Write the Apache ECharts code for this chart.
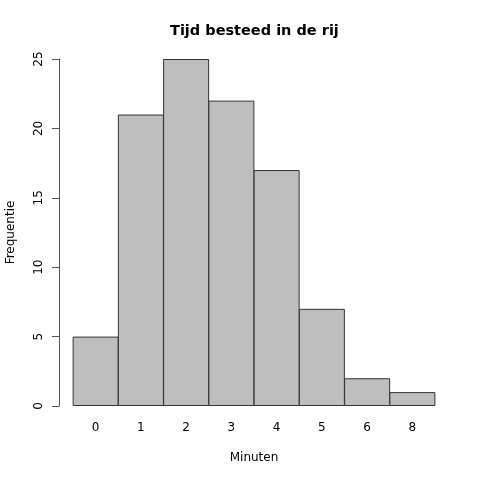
<!DOCTYPE html>
<html>
<head>
<meta charset="utf-8">
<script src="https://cdn.jsdelivr.net/npm/echarts@6/dist/echarts.min.js"></script>
<style>
  html, body { margin: 0; padding: 0; background: #fff; }
  #main { width: 480px; height: 480px; }
</style>
</head>
<body>
<div id="main"></div>
<script>
// wachttijd in minuten en hoe vaak die voorkwam
var minuten = ['0', '1', '2', '3', '4', '5', '6', '8'];
var frequentie = [5, 21, 25, 22, 17, 7, 2, 1];
var yTicks = [0, 5, 10, 15, 20, 25];

var font = 'DejaVu Sans';
var myChart = echarts.init(document.getElementById('main'));

var option = {
  animation: false,
  backgroundColor: '#fff',
  title: {
    text: 'Tijd besteed in de rij',
    left: 170,
    top: 24,
    padding: 0,
    textStyle: { fontFamily: font, fontSize: 14.5, fontWeight: 'bold', color: '#000' }
  },
  grid: { left: 73, right: 45, top: 59, bottom: 74, containLabel: false, outerBoundsMode: 'none' },
  xAxis: {
    type: 'category',
    data: minuten,
    name: 'Minuten',
    nameLocation: 'middle',
    nameGap: 46,
    nameTextStyle: { fontFamily: font, fontSize: 12, color: '#000' },
    axisLine: { show: false },
    axisTick: { show: false },
    axisLabel: { fontFamily: font, fontSize: 12, color: '#000', margin: 16, interval: 0 }
  },
  yAxis: {
    type: 'value',
    min: yTicks[0],
    max: yTicks[yTicks.length - 1],
    interval: 5,
    offset: 14,
    name: 'Frequentie',
    nameLocation: 'middle',
    nameGap: 42,
    nameRotate: 90,
    nameTextStyle: { fontFamily: font, fontSize: 12, color: '#000' },
    splitLine: { show: false },
    axisLine: { show: true, lineStyle: { color: '#555', width: 1 } },
    axisTick: { show: true, inside: false, length: 7, lineStyle: { color: '#555' } },
    axisLabel: { fontFamily: font, fontSize: 12, color: '#000', rotate: 90, margin: 14 }
  },
  series: [{
    type: 'bar',
    data: frequentie,
    barWidth: 46,
    itemStyle: { color: '#bebebe', borderColor: '#333', borderWidth: 1 }
  }]
};

myChart.setOption(option);
</script>
</body>
</html>
